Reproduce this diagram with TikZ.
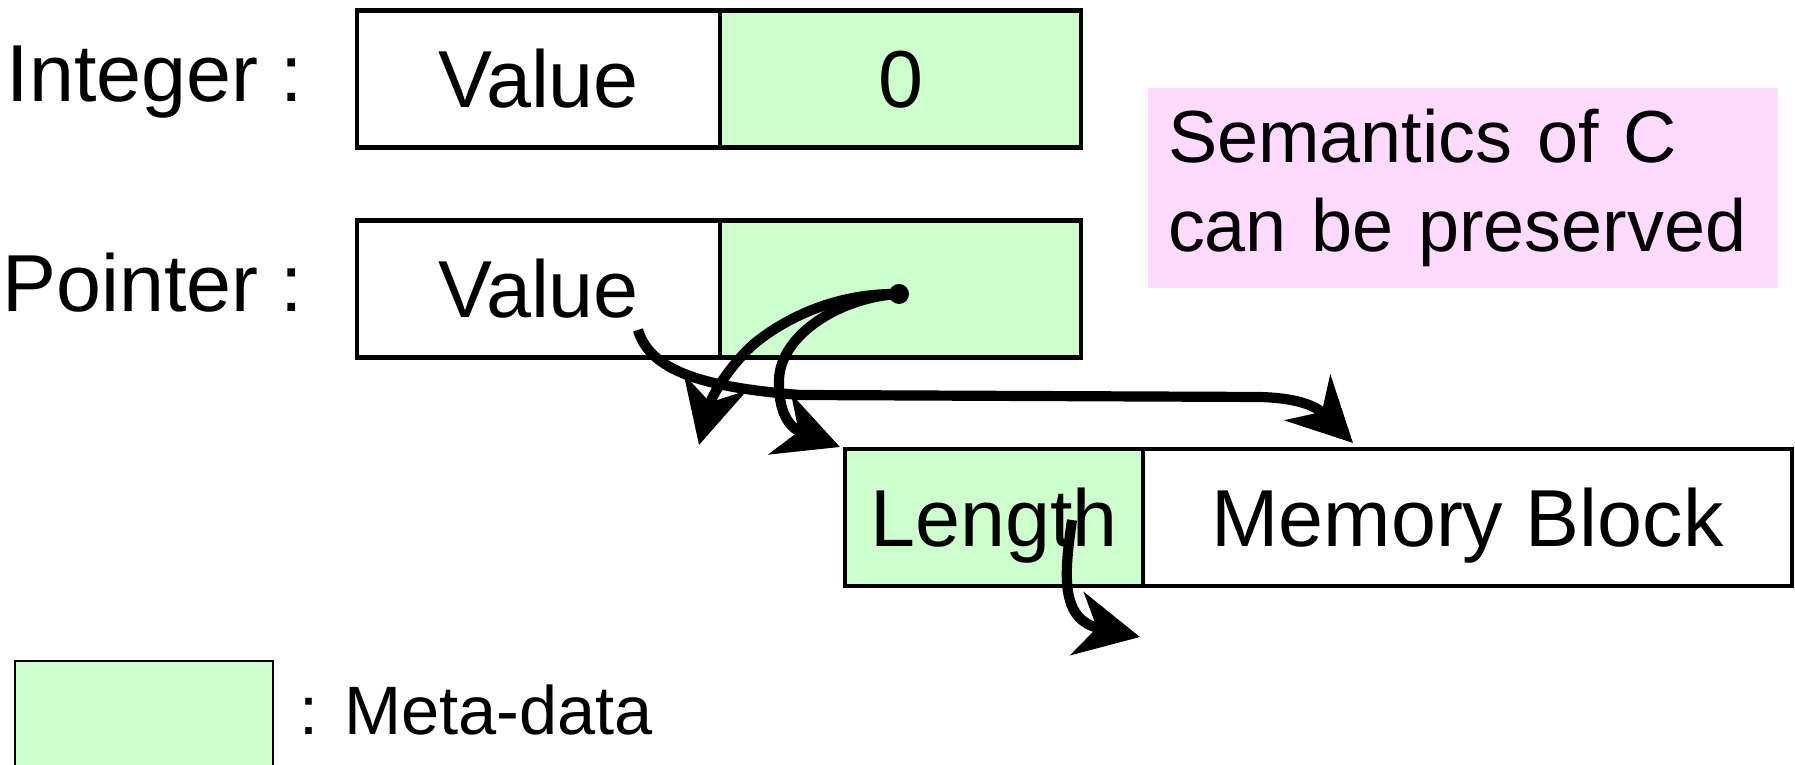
\documentclass[tikz,border=0pt]{standalone}
\usepackage{fontspec}
\setmainfont{Liberation Sans}
\usetikzlibrary{arrows.meta}
\definecolor{metagreen}{RGB}{204,255,204}
\definecolor{notepink}{RGB}{255,218,255}
\tikzset{
  cell/.style={draw,line width=1.4pt,minimum height=1.37cm,inner sep=0pt,
    text height=16.5pt,text depth=0pt,font=\fontsize{23}{27}\selectfont},
  meta/.style={cell,fill=metagreen},
  rowlabel/.style={anchor=base east,inner sep=0pt,font=\fontsize{23}{27}\selectfont},
  ptr/.style={line width=2.9pt,-{Stealth[length=6.4mm,width=6.4mm,inset=2mm]}}
}

\begin{document}
\begin{tikzpicture}
      \useasboundingbox (0,0) rectangle (17.95,7.65);
      \node[rowlabel] (intlabel) at (3.04,6.63) {Integer :};
      \node[cell,minimum width=3.63cm] (intval) at (5.385,6.86) {Value};
      \node[meta,minimum width=3.61cm] (intmeta) at (9.005,6.86) {0};
      \node[rowlabel] (ptrlabel) at (3.04,4.53) {Pointer :};
      \node[cell,minimum width=3.63cm] (ptrval) at (5.385,4.76) {Value};
      \node[meta,minimum width=3.61cm] (ptrmeta) at (9.005,4.76) {};
      \node[meta,minimum width=2.98cm] (lenmeta) at (9.94,2.475) {Length};
      \node[cell,minimum width=6.49cm] (memblock) at (14.675,2.475) {Memory Block};
      \node[fill=notepink,minimum width=6.3cm,minimum height=2cm,text width=5.9cm,
        align=left,font=\fontsize{21}{25.5}\selectfont] (note) at (14.63,5.77) {Semantics of C\\can be preserved};
      \node[draw,fill=metagreen,line width=0.8pt,minimum width=2.58cm,minimum height=1.3cm] (legendbox) at (1.44,0.39) {};
      \node[anchor=base west,inner sep=0pt,font=\fontsize{19.5}{23}\selectfont] (legendtext) at (2.99,0.30) {: Meta-data};
      \node[circle,fill,inner sep=0pt,minimum size=0.2cm] (dot) at (8.99,4.71) {};
      \coordinate (tipA) at (6.99,3.20);
      \coordinate (tipB) at (8.40,3.18);
      \coordinate (valend) at (6.38,4.35);
      \coordinate (tipC) at (13.53,3.22);
      \coordinate (lenend) at (10.72,2.45);
      \coordinate (tipD) at (11.40,1.28);
      \draw[ptr] (dot.center) .. controls (8.4,4.72) and (7.9,4.5) .. (7.55,4.22)
        .. controls (7.3,4.0) and (7.12,3.7) .. (tipA);
      \draw[ptr] (dot.center) .. controls (8.4,4.68) and (7.8,4.3) .. (7.79,3.85)
        .. controls (7.78,3.45) and (7.95,3.35) .. (tipB);
      \draw[ptr] (valend) .. controls (6.5,3.95) and (7.0,3.78) .. (8.0,3.70) -- (12.6,3.68)
        .. controls (12.95,3.67) and (13.15,3.6) .. (tipC);
      \draw[ptr] (lenend) .. controls (10.64,1.9) and (10.6,1.45) .. (tipD);
\end{tikzpicture}
\end{document}
